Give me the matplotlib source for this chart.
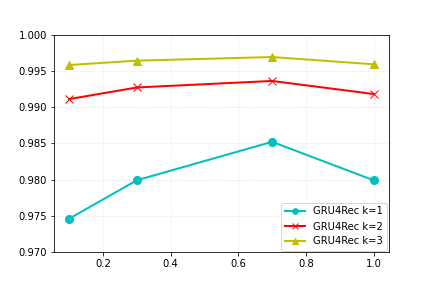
import matplotlib
matplotlib.use('Agg')
import matplotlib.pyplot as plt

#data
x_vals = [0.1, 0.3, 0.7, 1.0]
k1 = [0.9746, 0.9799, 0.9852, 0.9799]
k2 = [0.9911, 0.9927, 0.9936, 0.9918]
k3 = [0.9958, 0.9964, 0.9969, 0.9959]
labels = ['GRU4Rec k=1', 'GRU4Rec k=2', 'GRU4Rec k=3']

fig, ax = plt.subplots(figsize=(6, 4), dpi=72)
fig.subplots_adjust(bottom=0.125)
ax.plot(x_vals, k1, 'c-o', lw=2, ms=8, label=labels[0])
ax.plot(x_vals, k2, 'r-x', lw=2, ms=8, label=labels[1])
ax.plot(x_vals, k3, 'y-^', lw=2, ms=8, label=labels[2])
ax.set_ylim(0.970, 1.000)
ax.grid(ls=':', color='#dddddd')
ax.legend(loc='lower right', borderaxespad=0.15, markerscale=0.7)
fig.savefig('out.png', dpi=72)
